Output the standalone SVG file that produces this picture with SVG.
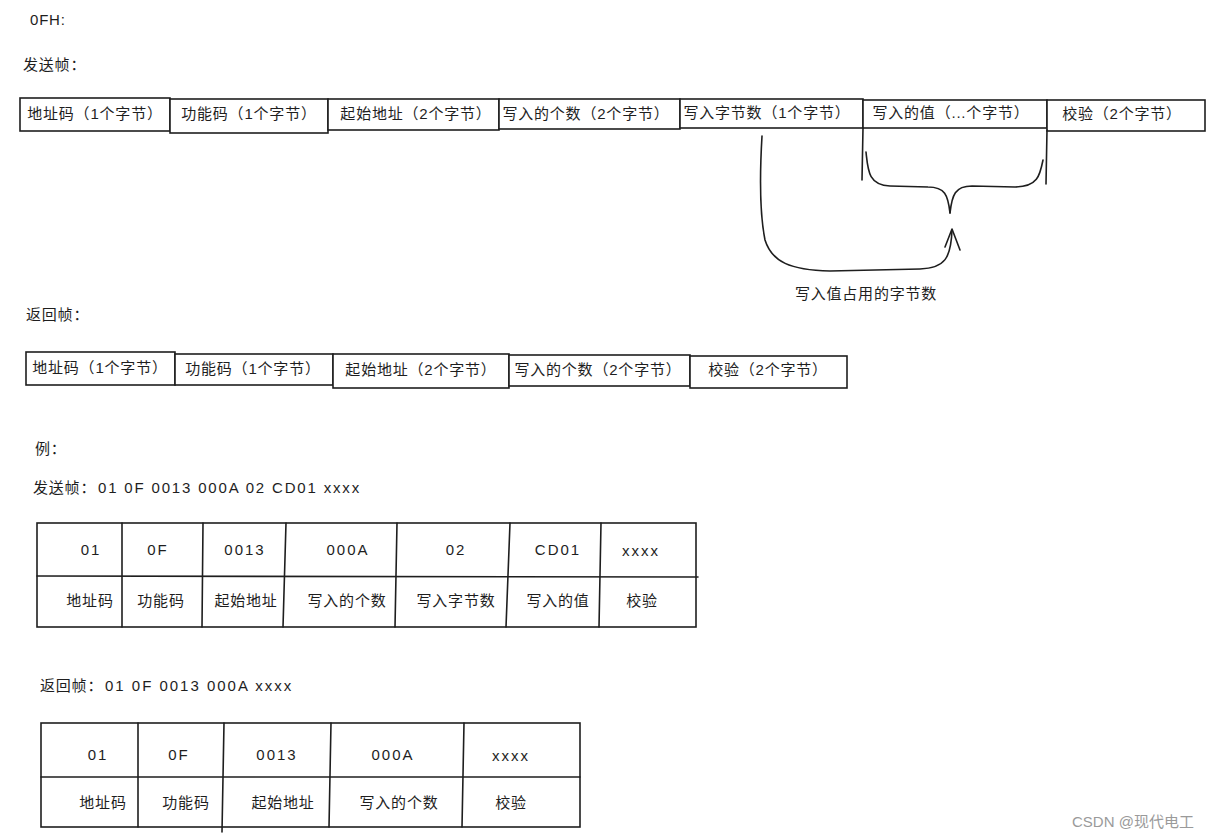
<svg xmlns="http://www.w3.org/2000/svg" width="1223" height="839" viewBox="0 0 1223 839">
<defs>
<style>
.t{font-family:"Liberation Sans","Noto Sans CJK SC",sans-serif;font-size:15px;letter-spacing:0.8px;fill:#1e1e1e}
.c{text-anchor:middle}
.n{letter-spacing:2px}
.b{fill:#fff;stroke:#1e1e1e;stroke-width:1.6}
.l{fill:none;stroke:#1e1e1e;stroke-width:1.6;stroke-linecap:round;stroke-linejoin:round}
.w{font-family:"Liberation Sans","Noto Sans CJK SC",sans-serif;font-size:15px;fill:#9a9a9a}
</style>
</defs>
<rect width="1223" height="839" fill="#fff"/>

<g id="titles">
<text class="t" x="30" y="25" font-size="13">0FH:</text>
<text class="t" x="23" y="70">发送帧：</text>
<text class="t" x="26" y="320">返回帧：</text>
<text class="t" x="35" y="454">例：</text>
<text class="t" x="33" y="493"><tspan>发送帧：</tspan><tspan x="98" textLength="262" lengthAdjust="spacing">01 0F 0013 000A 02 CD01 xxxx</tspan></text>
<text class="t" x="40" y="691"><tspan>返回帧：</tspan><tspan x="105" textLength="187" lengthAdjust="spacing">01 0F 0013 000A xxxx</tspan></text>
</g>

<g id="send-frame">
<g id="s1"><rect class="b" x="20" y="98" width="150" height="33"/><text class="t c" x="95" y="119">地址码（1个字节）</text></g>
<g id="s2"><rect class="b" x="170" y="99" width="158" height="34"/><text class="t c" x="249" y="119">功能码（1个字节）</text></g>
<g id="s3"><rect class="b" x="328" y="99" width="171" height="31"/><text class="t c" x="416" y="119">起始地址（2个字节）</text></g>
<g id="s4"><rect class="b" x="499" y="99" width="181" height="30"/><text class="t c" x="586" y="119">写入的个数（2个字节）</text></g>
<g id="s5"><rect class="b" x="680" y="99" width="183" height="29"/><text class="t c" x="767" y="118">写入字节数（1个字节）</text></g>
<g id="s6"><rect class="b" x="863" y="100" width="184" height="28"/><text class="t c" x="951" y="118">写入的值（...个字节）</text></g>
<g id="s7"><rect class="b" x="1047" y="100" width="158" height="31"/><text class="t c" x="1122" y="119">校验（2个字节）</text></g>
</g>

<g id="brace">
<path class="l" d="M863 128 L862 180"/>
<path class="l" d="M1047 130 L1046 184"/>
<path class="l" d="M866 152 C868 170 868 185 890 186 L928 187 C945 187 948 195 950 213"/>
<path class="l" d="M1043 160 C1040 175 1038 187 1015 187 L972 186 C955 186 952 195 950 213"/>
</g>
<text class="t c" id="brace-label" x="866" y="299">写入值占用的字节数</text>

<g id="connectors">
<path class="l" d="M762 136 C760 170 759 210 765 240 C772 262 790 270 830 271 L920 269 C945 268 951 258 952 230"/>
<path class="l" d="M945 247 L952 229 L960 250"/>
</g>

<g id="return-frame">
<g id="r1"><rect class="b" x="26" y="352" width="149" height="33"/><text class="t c" x="100" y="373">地址码（1个字节）</text></g>
<g id="r2"><rect class="b" x="175" y="354" width="158" height="31"/><text class="t c" x="253" y="374">功能码（1个字节）</text></g>
<g id="r3"><rect class="b" x="333" y="354" width="176" height="34"/><text class="t c" x="421" y="375">起始地址（2个字节）</text></g>
<g id="r4"><rect class="b" x="509" y="355" width="181" height="31"/><text class="t c" x="598" y="375">写入的个数（2个字节）</text></g>
<g id="r5"><rect class="b" x="690" y="356" width="157" height="32"/><text class="t c" x="768" y="375">校验（2个字节）</text></g>
</g>

<g id="example-send">
<rect class="b" x="37" y="523" width="659" height="104"/>
<path class="l" d="M37 576 L698 577"/>
<path class="l" d="M122 523 L122 627 M203 523 L202 627 M286 523 L283 627 M397 523 L395 627 M510 523 L506 627 M601 523 L599 627"/>
<g class="t c">
<text class="n" x="91" y="555">01</text><text class="n" x="158" y="555">0F</text><text class="n" x="245" y="555">0013</text><text class="n" x="348" y="555">000A</text><text class="n" x="456" y="555">02</text><text class="n" x="558" y="555">CD01</text><text class="n" x="641" y="556">xxxx</text>
<text x="90" y="606">地址码</text><text x="161" y="606">功能码</text><text x="246" y="606">起始地址</text><text x="347" y="606">写入的个数</text><text x="456" y="606">写入字节数</text><text x="558" y="606">写入的值</text><text x="642" y="606">校验</text>
</g>
</g>

<g id="example-return">
<rect class="b" x="41" y="723" width="539" height="104"/>
<path class="l" d="M41 777 L580 777"/>
<path class="l" d="M138 723 L138 827 M224 723 L222 832 M331 723 L329 827 M464 723 L462 827"/>
<g class="t c">
<text class="n" x="98" y="760">01</text><text class="n" x="179" y="760">0F</text><text class="n" x="277" y="760">0013</text><text class="n" x="393" y="760">000A</text><text class="n" x="511" y="761">xxxx</text>
<text x="103" y="808">地址码</text><text x="186" y="808">功能码</text><text x="283" y="808">起始地址</text><text x="399" y="808">写入的个数</text><text x="511" y="808">校验</text>
</g>
</g>

<text class="w" x="1072" y="827">CSDN @现代电工</text>
</svg>
